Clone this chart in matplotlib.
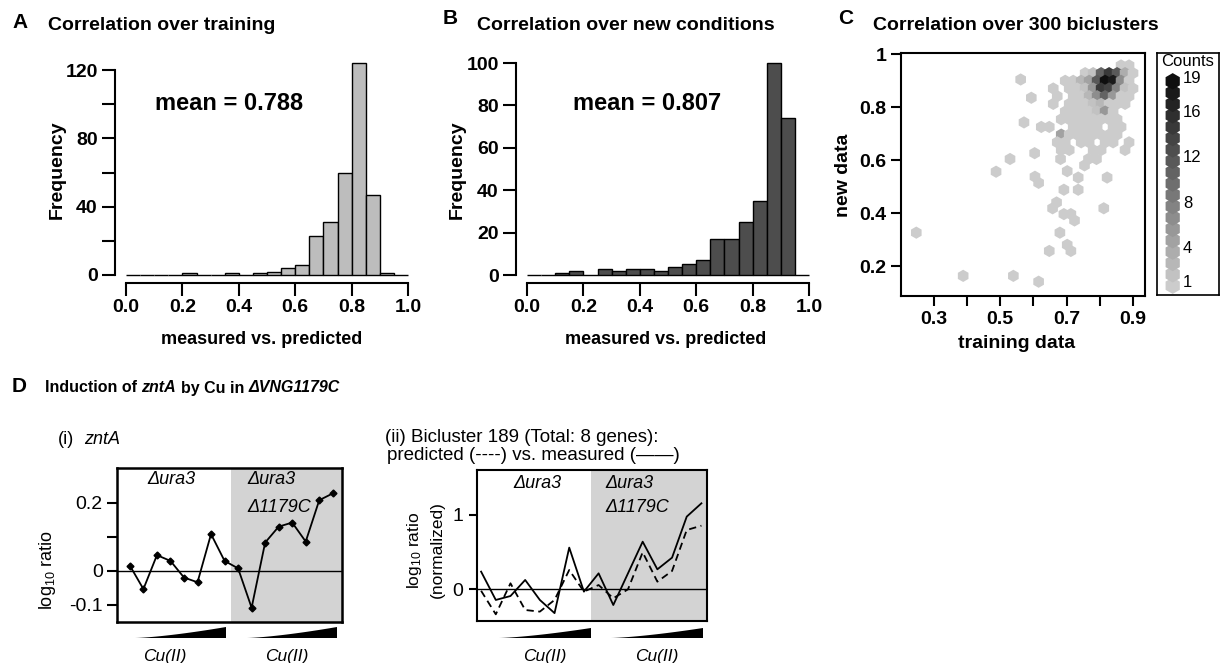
import numpy as np
import matplotlib
matplotlib.use('Agg')
import matplotlib.pyplot as plt
from matplotlib.patches import Polygon

plt.rcParams['font.family'] = ['Liberation Sans', 'DejaVu Sans']
plt.rcParams['mathtext.fontset'] = 'custom'
plt.rcParams['mathtext.rm'] = 'Liberation Sans'
plt.rcParams['mathtext.it'] = 'Liberation Sans:italic'
plt.rcParams['mathtext.bf'] = 'Liberation Sans:bold'

# ---- values ----
bin_edges = np.round(np.arange(0, 1.0001, 0.05), 2)
freq_training = [0, 0, 0, 0, 1, 0, 0, 1, 0, 1, 2, 4, 6, 23, 31, 60, 124, 47, 1, 0]
freq_new = [0, 0, 1, 2, 0, 3, 2, 3, 3, 2, 4, 5, 7, 17, 17, 25, 35, 100, 74, 0]
mean_training = 0.788
mean_new = 0.807

# hexbin cells (centre x = training r, centre y = new r, n = biclusters)
hex_x = [0.864, 0.888,
         0.756, 0.780, 0.804, 0.828, 0.852, 0.876, 0.900,
         0.696, 0.720, 0.744, 0.768, 0.792, 0.816, 0.840, 0.864, 0.888,
         0.660, 0.708, 0.732, 0.756, 0.780, 0.804, 0.828, 0.852, 0.876, 0.900,
         0.672, 0.720, 0.744, 0.768, 0.792, 0.816, 0.840, 0.864, 0.888,
         0.660, 0.708, 0.732, 0.756, 0.780, 0.804, 0.828, 0.852, 0.876,
         0.696, 0.720, 0.744, 0.768, 0.792, 0.816, 0.840,
         0.684, 0.708, 0.732, 0.756, 0.780, 0.804, 0.828, 0.852,
         0.624, 0.648, 0.720, 0.744, 0.768, 0.792, 0.840, 0.864,
         0.684, 0.708, 0.732, 0.756, 0.780, 0.804, 0.828, 0.852,
         0.672, 0.696, 0.744, 0.768, 0.816, 0.840, 0.888,
         0.684, 0.708, 0.780, 0.804, 0.876,
         0.248, 0.389, 0.540, 0.616, 0.488, 0.530, 0.562, 0.594, 0.572, 0.604,
         0.605, 0.616, 0.648, 0.670, 0.658, 0.680, 0.692, 0.713, 0.724, 0.702,
         0.713, 0.692, 0.702, 0.735, 0.735, 0.812, 0.822, 0.682, 0.754, 0.766, 0.790]
hex_y = [0.957, 0.957,
         0.928, 0.928, 0.928, 0.928, 0.928, 0.928, 0.928,
         0.899, 0.899, 0.899, 0.899, 0.899, 0.899, 0.899, 0.899, 0.899,
         0.870, 0.870, 0.870, 0.870, 0.870, 0.870, 0.870, 0.870, 0.870, 0.870,
         0.841, 0.841, 0.841, 0.841, 0.841, 0.841, 0.841, 0.841, 0.841,
         0.812, 0.812, 0.812, 0.812, 0.812, 0.812, 0.812, 0.812, 0.812,
         0.783, 0.783, 0.783, 0.783, 0.783, 0.783, 0.783,
         0.754, 0.754, 0.754, 0.754, 0.754, 0.754, 0.754, 0.754,
         0.725, 0.725, 0.725, 0.725, 0.725, 0.725, 0.725, 0.725,
         0.696, 0.696, 0.696, 0.696, 0.696, 0.696, 0.696, 0.696,
         0.667, 0.667, 0.667, 0.667, 0.667, 0.667, 0.667,
         0.638, 0.638, 0.638, 0.638, 0.638,
         0.326, 0.163, 0.163, 0.141, 0.556, 0.604, 0.904, 0.835, 0.742, 0.626,
         0.537, 0.514, 0.257, 0.440, 0.418, 0.326, 0.396, 0.396, 0.372, 0.280,
         0.257, 0.488, 0.558, 0.534, 0.488, 0.418, 0.534, 0.604, 0.580, 0.604, 0.604]
hex_n = [1, 1,
         1, 2, 11, 15, 12, 4, 1,
         1, 1, 3, 5, 12, 19, 18, 7, 1,
         1, 1, 1, 2, 6, 15, 14, 8, 2, 1,
         1, 1, 1, 3, 7, 11, 6, 1, 1,
         1, 1, 1, 1, 2, 3, 1, 1, 1,
         1, 1, 1, 1, 2, 6, 1,
         1, 1, 1, 1, 1, 1, 1, 1,
         1, 1, 1, 1, 1, 1, 1, 1,
         5, 1, 1, 1, 1, 1, 1, 1,
         1, 1, 1, 1, 1, 1, 1,
         1, 1, 1, 1, 1,
         1, 1, 1, 1, 1, 1, 1, 1, 1, 1,
         1, 1, 1, 1, 1, 1, 1, 1, 1, 1,
         1, 1, 1, 1, 1, 1, 1, 1, 1, 1, 1]
count_levels = list(range(1, 20))
count_labels = [19, 16, 12, 8, 4, 1]

conditions = list(range(1, 17))   # 8 Cu(II) doses in each strain
zntA_ratio = [0.015, -0.054, 0.046, 0.029, -0.020, -0.034, 0.108, 0.029,
              0.007, -0.109, 0.083, 0.130, 0.142, 0.086, 0.208, 0.228]
bic_measured = [0.238, -0.143, -0.09, 0.126, -0.143, -0.32, 0.561, -0.031,
                0.215, -0.211, 0.215, 0.641, 0.269, 0.426, 0.978, 1.157]
bic_predicted = [-0.02, -0.336, 0.081, -0.278, -0.30, -0.143, 0.26, -0.031,
                 0.058, -0.12, 0.0, 0.498, 0.103, 0.247, 0.798, 0.856]

W, H = 1222, 663
fig = plt.figure(figsize=(W / 100, H / 100), dpi=100)
r = fig.canvas.get_renderer()


def ax_px(l, t, rr, b):
    return fig.add_axes([l / W, 1 - b / H, (rr - l) / W, (b - t) / H])


def txt(x, y, s, **kw):
    kw.setdefault('va', 'center')
    return fig.text(x / W, 1 - y / H, s, **kw)


def space_w(**kw):
    a = fig.text(0, 0, 'n n', **kw)
    b = fig.text(0, 0, 'nn', **kw)
    w = a.get_window_extent(r).width - b.get_window_extent(r).width
    a.remove()
    b.remove()
    return w


def rich(x, y, pieces, **kw):
    sp = space_w(**kw)
    for s, style, gap in pieces:
        x += gap * sp
        t = txt(x, y, s, fontstyle=style, **kw)
        x += t.get_window_extent(r).width


def wedge(x0, x1, yb, yt):
    t = np.linspace(0, 1, 40)
    pts = [(x0 + (x1 - x0) * k, yb - (yb - yt) * k ** 1.4) for k in t]
    pts += [(x1, yb), (x0, yb)]
    pts = [(px / W, 1 - py / H) for px, py in pts]
    fig.add_artist(Polygon(pts, closed=True, facecolor='black', edgecolor='none',
                           transform=fig.transFigure))


def bold_ticks(ax):
    plt.setp(ax.get_xticklabels() + ax.get_yticklabels(), fontweight='bold')


def hist_panel(ax, freq, color, top, ylim, ylabels):
    ax.bar(bin_edges[:-1], freq, width=0.05, align='edge', color=color,
           edgecolor='black', linewidth=1.0, clip_on=False)
    ax.set_xlim(-0.039, 1.03)
    ax.set_ylim(*ylim)
    for s in ['top', 'right']:
        ax.spines[s].set_visible(False)
    ax.spines['left'].set_bounds(0, top)
    ax.spines['bottom'].set_bounds(0, 1)
    for s in ['left', 'bottom']:
        ax.spines[s].set_linewidth(1.5)
    ax.set_xticks(np.arange(0, 1.01, 0.2))
    ax.set_xticklabels(['0.0', '0.2', '0.4', '0.6', '0.8', '1.0'])
    ax.set_yticks(np.arange(0, top + 1, 20))
    ax.set_yticklabels(ylabels)
    ax.tick_params(direction='out', length=9.5, width=1.5, labelsize=14)
    ax.tick_params(axis='x', pad=2)
    ax.tick_params(axis='y', pad=3)
    bold_ticks(ax)


# ---- A ----
axA = ax_px(115, 59.8, 416.5, 283)
hist_panel(axA, freq_training, '#bdbdbd', 120, (-4.7, 126),
           ['0', '', '40', '', '80', '', '120'])
txt(12, 22, 'A', fontsize=15, fontweight='bold')
txt(48, 25, 'Correlation over training', fontsize=14, fontweight='bold')
txt(229, 103, 'mean = %.3f' % mean_training, fontsize=17, fontweight='bold', ha='center')
txt(57, 170, 'Frequency', fontsize=14, fontweight='bold', rotation=90, ha='center')
txt(262, 340, 'measured vs. predicted', fontsize=13, fontweight='bold', ha='center')

# ---- B ----
axB = ax_px(516, 58.8, 817.5, 283)
hist_panel(axB, freq_new, '#4d4d4d', 100, (-3.77, 102),
           ['0', '20', '40', '60', '80', '100'])
txt(443, 18, 'B', fontsize=15, fontweight='bold')
txt(477, 25, 'Correlation over new conditions', fontsize=14, fontweight='bold')
txt(647, 103, 'mean = %.3f' % mean_new, fontsize=17, fontweight='bold', ha='center')
txt(457, 170, 'Frequency', fontsize=14, fontweight='bold', rotation=90, ha='center')
txt(666, 340, 'measured vs. predicted', fontsize=13, fontweight='bold', ha='center')

# ---- C ----
def grey(n):
    v = 0.80 - (n - 1) / 18 * 0.74
    return (v, v, v)


axC = ax_px(901, 53, 1145, 296)
axC.scatter(hex_x, hex_y, s=78, marker='h', c=[grey(n) for n in hex_n], linewidths=0)
axC.set_xlim(0.202, 0.936)
axC.set_ylim(0.087, 1.004)
for s in axC.spines.values():
    s.set_linewidth(1.5)
axC.set_xticks(np.round(np.arange(0.3, 0.91, 0.1), 1))
axC.set_xticklabels(['0.3', '', '0.5', '', '0.7', '', '0.9'])
axC.set_yticks([0.2, 0.4, 0.6, 0.8, 1.0])
axC.set_yticklabels(['0.2', '0.4', '0.6', '0.8', '1'])
axC.tick_params(direction='out', length=7, width=1.5, labelsize=14)
bold_ticks(axC)
txt(838, 18, 'C', fontsize=15, fontweight='bold')
txt(873, 25, 'Correlation over 300 biclusters', fontsize=14, fontweight='bold')
txt(1017, 343, 'training data', fontsize=14, fontweight='bold', ha='center')
txt(843, 175, 'new data', fontsize=14, fontweight='bold', rotation=90, ha='center')

lg = ax_px(1157, 53, 1219, 295)
lg.set_xlim(1157, 1219)
lg.set_ylim(295, 53)
lg.set_xticks([])
lg.set_yticks([])
for s in lg.spines.values():
    s.set_linewidth(1.2)
lev_y = [285.7 - (k - 1) * 204.4 / 18 for k in count_levels]
lg.scatter([1172.7] * len(count_levels), lev_y, s=140, marker='h',
           c=[grey(k) for k in count_levels], linewidths=0)
lg.text(1188, 61, 'Counts', fontsize=12, ha='center', va='center')
for k in count_labels:
    lg.text(1183, lev_y[k - 1] - 3, str(k), fontsize=12, ha='left', va='center')

# ---- D ----
txt(12, 387, 'D', fontsize=15, fontweight='bold')
rich(45, 388, [('Induction of', 'normal', 0), ('zntA', 'italic', 1),
               ('by Cu in', 'normal', 1), ('\u0394VNG1179C', 'italic', 1)],
     fontsize=11.5, fontweight='bold')

# (i) zntA
axD1 = ax_px(117.3, 468.3, 341.7, 622.3)
axD1.axvspan(8.5, 16.66, color='#d3d3d3', lw=0, zorder=0)
axD1.axhline(0, color='black', lw=1)
axD1.plot(conditions, zntA_ratio, color='black', lw=1.3, marker='D', ms=3.5)
axD1.set_xlim(0.07, 16.66)
axD1.set_ylim(-0.152, 0.302)
axD1.set_xticks([])
axD1.set_yticks([-0.1, 0, 0.1, 0.2])
axD1.set_yticklabels(['-0.1', '0', '', '0.2'])
axD1.tick_params(direction='out', length=7, width=1.5, labelsize=14)
for s in axD1.spines.values():
    s.set_linewidth(1.8)
rich(58, 440, [('(i)', 'normal', 0), ('zntA', 'italic', 2)], fontsize=13)
txt(47, 570, 'log$_{10}$ ratio', fontsize=13, rotation=90, ha='center')
txt(147, 480, '\u0394ura3', fontsize=13, fontstyle='italic')
txt(247, 480, '\u0394ura3', fontsize=13, fontstyle='italic')
txt(247, 508, '\u03941179C', fontsize=13, fontstyle='italic')
wedge(135, 226, 638, 627)
wedge(247, 337, 638, 627)
txt(165, 657, 'Cu(II)', fontsize=12.5, fontstyle='italic', ha='center')
txt(287, 657, 'Cu(II)', fontsize=12.5, fontstyle='italic', ha='center')

# (ii) bicluster 189
axD2 = ax_px(476.7, 470, 707.3, 621)
axD2.axvspan(8.5, 16.4, color='#d3d3d3', lw=0, zorder=0)
axD2.axhline(0, color='black', lw=1)
axD2.plot(conditions, bic_predicted, color='black', lw=1.3, ls=(0, (4, 2.5)))
axD2.plot(conditions, bic_measured, color='black', lw=1.3)
axD2.set_xlim(0.7, 16.4)
axD2.set_ylim(-0.426, 1.605)
axD2.set_xticks([])
axD2.set_yticks([0, 1])
axD2.tick_params(direction='out', length=6, width=1.5, labelsize=14)
for s in axD2.spines.values():
    s.set_linewidth(1.5)
txt(385, 438, '(ii) Bicluster 189 (Total: 8 genes):', fontsize=13.5)
txt(387, 456, 'predicted (----) vs. measured (\u2014\u2014)', fontsize=13.5)
txt(415, 550, 'log$_{10}$ ratio', fontsize=12.5, rotation=90, ha='center')
txt(437, 550, '(normalized)', fontsize=12.5, rotation=90, ha='center')
txt(513, 484, '\u0394ura3', fontsize=13, fontstyle='italic')
txt(605, 484, '\u0394ura3', fontsize=13, fontstyle='italic')
txt(605, 508, '\u03941179C', fontsize=13, fontstyle='italic')
wedge(499, 591, 638, 628)
wedge(611, 703, 638, 628)
txt(545, 656, 'Cu(II)', fontsize=12.5, fontstyle='italic', ha='center')
txt(657, 656, 'Cu(II)', fontsize=12.5, fontstyle='italic', ha='center')

fig.savefig('out.png', dpi=100)
